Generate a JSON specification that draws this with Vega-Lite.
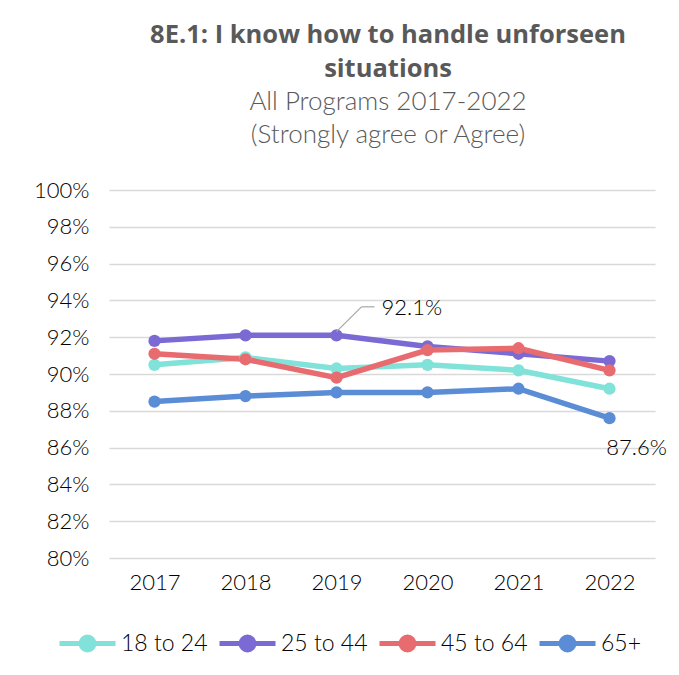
{
  "$schema": "https://vega.github.io/schema/vega-lite/v6.json",
  "width": 546,
  "height": 368,
  "autosize": "none",
  "padding": {"left": 109, "top": 190, "right": 24, "bottom": 117},
  "background": "white",
  "title": {
    "text": ["8E.1: I know how to handle unforseen", "situations"],
    "subtitle": ["All Programs 2017-2022", "(Strongly agree or Agree)"],
    "anchor": "middle",
    "frame": "group",
    "dx": 6,
    "offset": 31,
    "font": "Open Sans",
    "fontSize": 25.5,
    "fontWeight": "bold",
    "color": "#595959",
    "lineHeight": 34,
    "subtitleFont": "Lato",
    "subtitleFontSize": 26,
    "subtitleFontWeight": 300,
    "subtitleColor": "#595959",
    "subtitleLineHeight": 33,
    "subtitlePadding": 7
  },
  "data": {
    "values": [
      {"year": "2017", "group": "18 to 24", "value": 0.905},
      {"year": "2018", "group": "18 to 24", "value": 0.909},
      {"year": "2019", "group": "18 to 24", "value": 0.903},
      {"year": "2020", "group": "18 to 24", "value": 0.905},
      {"year": "2021", "group": "18 to 24", "value": 0.902},
      {"year": "2022", "group": "18 to 24", "value": 0.892},
      {"year": "2017", "group": "25 to 44", "value": 0.918},
      {"year": "2018", "group": "25 to 44", "value": 0.921},
      {"year": "2019", "group": "25 to 44", "value": 0.921},
      {"year": "2020", "group": "25 to 44", "value": 0.915},
      {"year": "2021", "group": "25 to 44", "value": 0.911},
      {"year": "2022", "group": "25 to 44", "value": 0.907},
      {"year": "2017", "group": "45 to 64", "value": 0.911},
      {"year": "2018", "group": "45 to 64", "value": 0.908},
      {"year": "2019", "group": "45 to 64", "value": 0.898},
      {"year": "2020", "group": "45 to 64", "value": 0.913},
      {"year": "2021", "group": "45 to 64", "value": 0.914},
      {"year": "2022", "group": "45 to 64", "value": 0.902},
      {"year": "2017", "group": "65+", "value": 0.885},
      {"year": "2018", "group": "65+", "value": 0.888},
      {"year": "2019", "group": "65+", "value": 0.890},
      {"year": "2020", "group": "65+", "value": 0.890},
      {"year": "2021", "group": "65+", "value": 0.892},
      {"year": "2022", "group": "65+", "value": 0.876}
    ]
  },
  "encoding": {
    "x": {
      "field": "year", "type": "ordinal",
      "scale": {"type": "point", "padding": 0.5},
      "axis": {"title": null, "labelAngle": 0, "domain": false, "ticks": false, "labelPadding": 14, "labelFont": "Lato", "labelFontWeight": 300, "labelFontSize": 22, "labelColor": "#000000"}
    },
    "y": {
      "field": "value", "type": "quantitative",
      "scale": {"domain": [0.8, 1.0], "zero": false, "nice": false},
      "axis": {"title": null, "format": ".0%", "values": [0.8, 0.82, 0.84, 0.86, 0.88, 0.9, 0.92, 0.94, 0.96, 0.98, 1.0], "domain": false, "ticks": false, "labelPadding": 20, "labelFont": "Lato", "labelFontWeight": 300, "labelFontSize": 22, "labelColor": "#000000", "gridColor": "#d9d9d9", "gridWidth": 1.5}
    }
  },
  "layer": [
    {
      "mark": {"type": "line", "strokeWidth": 5.5, "point": {"size": 150, "filled": true, "opacity": 1}},
      "encoding": {
        "color": {
          "field": "group", "type": "nominal",
          "scale": {"domain": ["18 to 24", "25 to 44", "45 to 64", "65+"], "range": ["#80e2d8", "#7c6ad4", "#e86b70", "#5b8dd6"]},
          "legend": {
            "title": null,
            "orient": "none",
            "legendX": -52,
            "legendY": 423,
            "direction": "horizontal",
            "columns": 4,
            "symbolType": "M-1,0L1,0M0.23,0A0.23,0.23,0,1,1,-0.23,0A0.23,0.23,0,1,1,0.23,0Z",
            "symbolSize": 3136,
            "symbolStrokeWidth": 5,
            "labelFont": "Lato",
            "labelFontWeight": 300,
            "labelFontSize": 23,
            "labelColor": "#000000",
            "labelOffset": 3,
            "columnPadding": 1
          }
        }
      }
    },
    {
      "transform": [{"filter": "datum.group === '25 to 44' && datum.year === '2019'"}],
      "mark": {"type": "text", "align": "left", "baseline": "middle", "dx": 45, "dy": -27, "font": "Lato", "fontWeight": 300, "fontSize": 22, "color": "#000000"},
      "encoding": {"text": {"field": "value", "type": "quantitative", "format": ".1%"}}
    },
    {
      "transform": [{"filter": "datum.group === '65+' && datum.year === '2022'"}],
      "mark": {"type": "text", "align": "center", "baseline": "middle", "dx": 27, "dy": 30, "font": "Lato", "fontWeight": 300, "fontSize": 22, "color": "#000000"},
      "encoding": {"text": {"field": "value", "type": "quantitative", "format": ".1%"}}
    },
    {
      "data": {"values": [{"year": "2019", "y1": 0.923, "y2": 0.9365}]},
      "mark": {"type": "rule", "color": "#a6a6a6", "strokeWidth": 1.2, "x2Offset": 25},
      "encoding": {
        "x": {"field": "year", "type": "ordinal"},
        "x2": {"field": "year"},
        "y": {"field": "y1", "type": "quantitative"},
        "y2": {"field": "y2"}
      }
    },
    {
      "data": {"values": [{"year": "2019", "y1": 0.9365}]},
      "mark": {"type": "rule", "color": "#a6a6a6", "strokeWidth": 1.2, "xOffset": 25, "x2Offset": 38},
      "encoding": {
        "x": {"field": "year", "type": "ordinal"},
        "x2": {"field": "year"},
        "y": {"field": "y1", "type": "quantitative"}
      }
    }
  ],
  "config": {"view": {"stroke": null}}
}
